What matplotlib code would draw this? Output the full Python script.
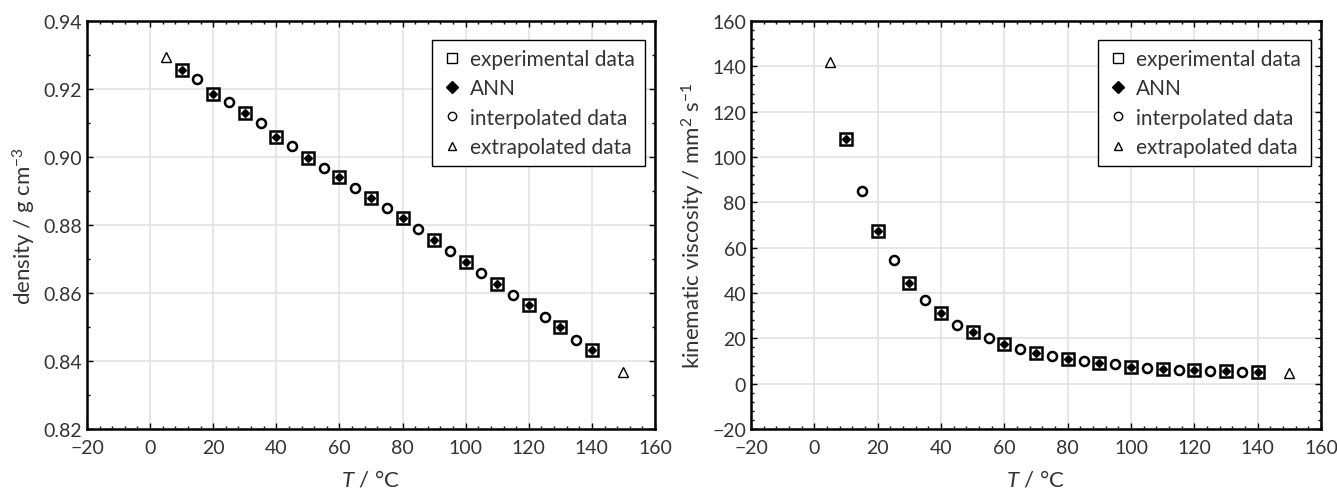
import matplotlib
matplotlib.use('Agg')
import matplotlib.pyplot as plt
from matplotlib.lines import Line2D
from matplotlib.ticker import AutoMinorLocator, MultipleLocator, FormatStrFormatter

plt.rcParams['font.family'] = ['Lato', 'DejaVu Sans']
plt.rcParams['mathtext.fontset'] = 'custom'
plt.rcParams['mathtext.rm'] = 'Lato'
plt.rcParams['mathtext.it'] = 'Lato:italic'

# Temperatures (deg C)
T_exp = [10, 20, 30, 40, 50, 60, 70, 80, 90, 100, 110, 120, 130, 140]
T_int = [15, 25, 35, 45, 55, 65, 75, 85, 95, 105, 115, 125, 135]
T_ext = [5, 150]

# Density (g cm^-3)
rho_exp = [0.9255, 0.9185, 0.9128, 0.9060, 0.8998, 0.8940, 0.8880,
           0.8820, 0.8755, 0.8690, 0.8627, 0.8565, 0.8500, 0.8432]
rho_ann = rho_exp
rho_int = [0.9230, 0.9162, 0.9100, 0.9031, 0.8969, 0.8910, 0.8851,
           0.8788, 0.8724, 0.8660, 0.8594, 0.8530, 0.8463]
rho_ext = [0.9295, 0.8367]

# Kinematic viscosity (mm^2 s^-1)
nu_exp = [108.0, 67.5, 44.5, 31.0, 23.0, 17.5, 13.5, 11.0, 9.0, 7.5,
          6.5, 6.0, 5.5, 5.0]
nu_ann = nu_exp
nu_int = [85.0, 54.5, 37.0, 26.0, 20.0, 15.5, 12.0, 10.0, 8.5, 7.0,
          6.0, 5.5, 5.0]
nu_ext = [142.0, 4.5]

TXT = '#333333'

fig = plt.figure(figsize=(13.37, 4.89), dpi=100)
ax1 = fig.add_axes([87 / 1337, 59 / 489, 568 / 1337, 408 / 489])
ax2 = fig.add_axes([751 / 1337, 59 / 489, 570 / 1337, 408 / 489])

# smaller, thin-edged symbols for the legend
handles = [
    Line2D([], [], ls='none', marker='s', ms=7, mfc='white', mec='black', mew=1.0),
    Line2D([], [], ls='none', marker='D', ms=6, color='black'),
    Line2D([], [], ls='none', marker='o', ms=6, mfc='white', mec='black', mew=1.0),
    Line2D([], [], ls='none', marker='^', ms=6, mfc='white', mec='black', mew=1.0),
]
labels = ['experimental data', 'ANN', 'interpolated data', 'extrapolated data']


def draw(ax, x_exp, y_exp, y_ann, x_int, y_int, x_ext, y_ext, ylabel):
    ax.plot(x_exp, y_exp, 's', ms=8.5, mfc='white', mec='black', mew=1.8, zorder=3)
    ax.plot(x_exp, y_ann, 'D', ms=4, color='black', zorder=4)
    ax.plot(x_int, y_int, 'o', ms=6.5, mfc='white', mec='black', mew=1.8, zorder=3)
    ax.plot(x_ext, y_ext, '^', ms=7, mfc='white', mec='black', mew=1.0, zorder=3)
    ax.set_xlim(-20, 160)
    ax.xaxis.set_major_locator(MultipleLocator(20))
    ax.xaxis.set_minor_locator(AutoMinorLocator(5))
    ax.grid(True, color='#e3e3e3', lw=1.2)
    ax.set_axisbelow(True)
    ax.tick_params(which='both', direction='in', top=True, right=True,
                   labelsize=14, colors='black', labelcolor=TXT)
    ax.tick_params(axis='x', which='major', pad=7)
    ax.tick_params(which='major', length=4, width=1)
    ax.tick_params(which='minor', length=2.5, width=1)
    for sp in ax.spines.values():
        sp.set_linewidth(1.8)
    ax.set_xlabel('$T$ / °C', fontsize=16, color=TXT, labelpad=9)
    ax.set_ylabel(ylabel, fontsize=16, color=TXT)
    leg = ax.legend(handles, labels, loc='upper right', fontsize=15,
                    frameon=True, fancybox=False, edgecolor='black',
                    framealpha=1, handletextpad=0.4, borderpad=0.45,
                    labelspacing=0.45, handlelength=1.0,
                    bbox_to_anchor=(1.0, 0.98))
    leg.get_frame().set_linewidth(1.0)
    for t in leg.get_texts():
        t.set_color(TXT)


draw(ax1, T_exp, rho_exp, rho_ann, T_int, rho_int, T_ext, rho_ext,
     'density / g cm$^{-3}$')
ax1.set_ylim(0.82, 0.94)
ax1.yaxis.set_major_locator(MultipleLocator(0.02))
ax1.yaxis.set_minor_locator(AutoMinorLocator(2))
ax1.yaxis.set_major_formatter(FormatStrFormatter('%.2f'))

draw(ax2, T_exp, nu_exp, nu_ann, T_int, nu_int, T_ext, nu_ext,
     'kinematic viscosity / mm$^{2}$ s$^{-1}$')
ax2.set_ylim(-20, 160)
ax2.yaxis.set_major_locator(MultipleLocator(20))
ax2.yaxis.set_minor_locator(AutoMinorLocator(5))

fig.savefig('out.png', dpi=100)
